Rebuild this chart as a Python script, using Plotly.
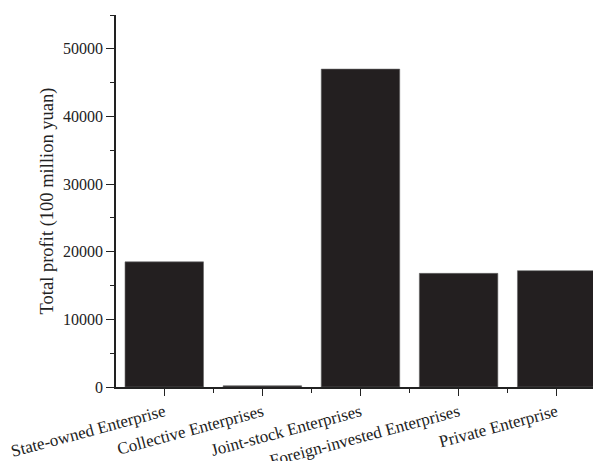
import plotly.graph_objects as go

categories = ["State-owned Enterprise", "Collective Enterprises", "Joint-stock Enterprises",
              "Foreign-invested Enterprises", "Private Enterprise"]
profits = [18500, 180, 47000, 16800, 17200]
y_ticks = [0, 10000, 20000, 30000, 40000, 50000]

positions = list(range(len(categories)))
font_family = "Liberation Serif"

fig = go.Figure(go.Bar(
    x=positions, y=profits, width=0.8,
    marker=dict(color="#231f20", line=dict(width=0.6, color="#666666")),
))

fig.update_layout(
    width=593, height=461,
    margin=dict(l=116, r=0, t=15, b=74),
    plot_bgcolor="white", paper_bgcolor="white",
    showlegend=False,
    font=dict(family=font_family, color="#222222", size=16),
)

fig.update_xaxes(
    range=[-0.492, 4.37], automargin=False,
    tickvals=positions, ticktext=categories, tickangle=-15,
    ticks="outside", ticklen=7, tickwidth=1.2, tickcolor="#222222",
    showline=True, linecolor="#222222", linewidth=1.5,
    showgrid=False, zeroline=False,
    tickfont=dict(family=font_family, size=17, color="#222222"),
    minor=dict(tickvals=[p - 0.5 for p in positions] + [len(positions) - 0.5],
               ticks="outside", ticklen=4, tickcolor="#222222", showgrid=False),
)

fig.update_yaxes(
    range=[0, 55000], automargin=False,
    tickvals=y_ticks, ticktext=[str(v) for v in y_ticks],
    ticks="outside", ticklen=8, tickwidth=1.2, tickcolor="#222222",
    showline=True, linecolor="#222222", linewidth=1.5,
    showgrid=False, zeroline=False,
    tickfont=dict(family=font_family, size=16, color="#222222"),
    title=dict(text="Total profit (100 million yuan)", standoff=5,
               font=dict(family=font_family, size=18.5, color="#222222")),
    minor=dict(dtick=5000, tick0=0, ticks="outside", ticklen=4,
               tickcolor="#222222", showgrid=False),
)

fig.write_html("out.html")
